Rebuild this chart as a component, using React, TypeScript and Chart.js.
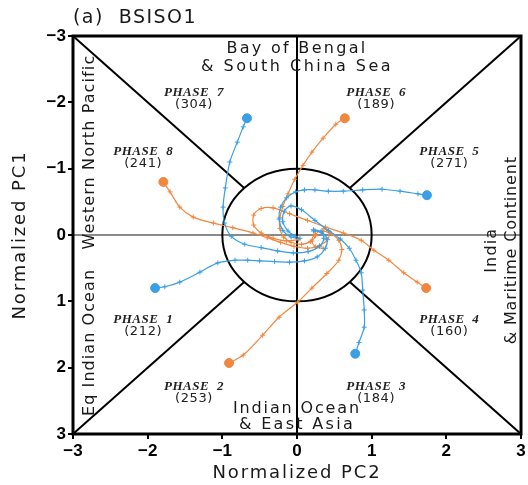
import React, { useEffect, useRef } from "react";
import { Chart, registerables } from "chart.js";

Chart.register(...registerables);

// Axis ticks (both axes: -3 .. 3)
const AXIS_TICKS = [-3, -2, -1, 0, 1, 2, 3];

// Trajectories (x = Normalized PC2, y = Normalized PC1); first point is the large dot
// Phase 1 (blue)
const p1X = [-1.90, -1.77, -1.57, -1.30, -1.06, -0.83, -0.66, -0.50, -0.30, -0.10, 0.10, 0.27, 0.38, 0.40, 0.33, 0.22];
const p1Y = [0.80, 0.78, 0.71, 0.56, 0.42, 0.38, 0.38, 0.39, 0.40, 0.41, 0.39, 0.33, 0.20, 0.06, -0.04, -0.06];
// Phase 3 (blue)
const p3X = [0.78, 0.83, 0.90, 0.90, 0.88, 0.86, 0.79, 0.70, 0.58, 0.42, 0.24, 0.06, -0.08, -0.17, -0.19, -0.12, -0.02];
const p3Y = [1.79, 1.62, 1.39, 1.13, 0.83, 0.57, 0.38, 0.20, 0.06, -0.07, -0.22, -0.38, -0.44, -0.36, -0.20, -0.06, 0.02];
// Phase 5 (blue)
const p5X = [1.74, 1.62, 1.38, 1.14, 0.88, 0.62, 0.42, 0.24, 0.10, -0.02, -0.14, -0.22, -0.24, -0.19, -0.08, 0.04];
const p5Y = [-0.60, -0.62, -0.66, -0.69, -0.68, -0.66, -0.66, -0.68, -0.68, -0.65, -0.56, -0.42, -0.24, -0.07, 0.03, 0.05];
// Phase 7 (blue)
const p7X = [-0.67, -0.72, -0.80, -0.90, -0.96, -0.99, -0.97, -0.88, -0.70, -0.48, -0.26, -0.05, 0.15, 0.30, 0.36, 0.32, 0.22];
const p7Y = [-1.76, -1.63, -1.40, -1.10, -0.71, -0.42, -0.18, 0.02, 0.14, 0.19, 0.24, 0.27, 0.25, 0.17, 0.05, -0.05, -0.08];
// Phase 2 (orange)
const p2X = [-0.91, -0.72, -0.46, -0.24, 0.01, 0.20, 0.40, 0.56, 0.60, 0.56, 0.46, 0.34, 0.24, 0.20, 0.25, 0.35];
const p2Y = [1.93, 1.81, 1.51, 1.24, 1.01, 0.80, 0.58, 0.38, 0.22, 0.08, -0.02, -0.06, -0.01, 0.09, 0.18, 0.20];
// Phase 4 (orange)
const p4X = [1.73, 1.61, 1.43, 1.23, 1.03, 0.86, 0.62, 0.38, 0.14, -0.10, -0.32, -0.48, -0.58, -0.58, -0.48, -0.32, -0.14, 0.02];
const p4Y = [0.80, 0.71, 0.57, 0.38, 0.23, 0.08, -0.03, -0.12, -0.22, -0.32, -0.41, -0.40, -0.30, -0.15, -0.03, 0.05, 0.09, 0.07];
// Phase 6 (orange)
const p6X = [0.64, 0.52, 0.35, 0.20, 0.08, -0.03, -0.12, -0.19, -0.23, -0.23, -0.18, -0.08, 0.06, 0.18, 0.25, 0.24];
const p6Y = [-1.76, -1.67, -1.46, -1.25, -1.05, -0.84, -0.62, -0.43, -0.26, -0.10, 0.03, 0.11, 0.14, 0.10, 0.01, -0.07];
// Phase 8 (orange)
const p8X = [-1.79, -1.70, -1.57, -1.39, -1.12, -0.86, -0.59, -0.40, -0.22, -0.04, 0.14, 0.30, 0.41, 0.43, 0.36];
const p8Y = [-0.80, -0.65, -0.42, -0.27, -0.18, -0.11, -0.03, 0.04, 0.11, 0.17, 0.20, 0.16, 0.07, -0.04, -0.10];

// Phase labels and sample counts
const PHASE_NAMES = ["PHASE  1", "PHASE  2", "PHASE  3", "PHASE  4", "PHASE  5", "PHASE  6", "PHASE  7", "PHASE  8"];
const PHASE_COUNTS = ["(212)", "(253)", "(184)", "(160)", "(271)", "(189)", "(304)", "(241)"];

// Layout of the phase labels (in data units)
const PHASE_POS: [number, number][] = [
  [-2.06, 1.28], [-1.38, 2.29], [1.06, 2.29], [2.04, 1.28],
  [2.04, -1.25], [1.06, -2.14], [-1.38, -2.14], [-2.06, -1.25],
];

const BLUE = "#3a9fe4";
const ORANGE = "#f1873f";

const fmt = (v: number) => (v < 0 ? "\u2212" + Math.abs(v) : String(v));

function makeSet(xs: number[], ys: number[], color: string) {
  return {
    data: xs.map((v, i) => ({ x: v, y: ys[i] })),
    showLine: true,
    borderColor: color,
    backgroundColor: color,
    borderWidth: 1.2,
    tension: 0.3,
    pointStyle: (c: any) => (c.dataIndex === 0 ? "circle" : "cross"),
    pointRadius: (c: any) => (c.dataIndex === 0 ? 4.5 : 2.5),
    pointBorderWidth: 1,
    pointHoverRadius: 0,
  };
}

const overlay = {
  id: "overlay",
  beforeDatasetsDraw(chart: any) {
    const { ctx, scales } = chart;
    const x = scales.x, y = scales.y;
    const px = (v: number) => x.getPixelForValue(v);
    const py = (v: number) => y.getPixelForValue(v);
    const seg = (x1: number, y1: number, x2: number, y2: number) => {
      ctx.beginPath();
      ctx.moveTo(x1, y1);
      ctx.lineTo(x2, y2);
      ctx.stroke();
    };
    ctx.save();
    ctx.lineWidth = 2;
    ctx.strokeStyle = "#8a8a8a";
    seg(px(-3), py(0), px(3), py(0));
    ctx.strokeStyle = "#000";
    seg(px(0), py(-3), px(0), py(3));
    const r = Math.SQRT1_2;
    for (const [sx, sy] of [[-1, -1], [1, -1], [1, 1], [-1, 1]]) {
      seg(px(3 * sx), py(3 * sy), px(r * sx), py(r * sy));
    }
    ctx.beginPath();
    ctx.ellipse(px(0), py(0), px(1) - px(0), Math.abs(py(1) - py(0)), 0, 0, Math.PI * 2);
    ctx.stroke();
    ctx.restore();
  },
  afterDraw(chart: any) {
    const { ctx, chartArea: a, scales } = chart;
    const x = scales.x, y = scales.y;
    const px = (v: number) => x.getPixelForValue(v);
    const py = (v: number) => y.getPixelForValue(v);
    ctx.save();
    // frame
    ctx.lineWidth = 3;
    ctx.strokeStyle = "#000";
    ctx.strokeRect(a.left, a.top, a.right - a.left, a.bottom - a.top);

    // text stretched (via letter spacing) to a target width, centred (or left-aligned) on X,Y
    const text = (t: string, X: number, Y: number, font: string, width: number, rot = 0, left = false, color = "#1a1a1a") => {
      ctx.save();
      ctx.font = font;
      (ctx as any).letterSpacing = "0px";
      const w = ctx.measureText(t).width;
      const s = (width - w) / t.length;
      (ctx as any).letterSpacing = s.toFixed(2) + "px";
      ctx.fillStyle = color;
      ctx.textAlign = "left";
      ctx.textBaseline = "middle";
      ctx.translate(X, Y);
      if (rot) ctx.rotate(rot);
      ctx.fillText(t, left ? 0 : -width / 2, 0);
      ctx.restore();
    };
    const reg = "16px 'DejaVu Sans'";
    const up = -Math.PI / 2;

    // title
    text("(a)  BSISO1", a.left, 18, "19px 'DejaVu Sans'", 124, 0, true);

    // axis titles
    text("Normalized PC2", (a.left + a.right) / 2, 473, "18px 'DejaVu Sans'", 169);
    text("Normalized PC1", 20, (a.top + a.bottom) / 2, "18px 'DejaVu Sans'", 169, up);

    // region labels
    text("Bay of Bengal", px(0), py(-2.80), reg, 141);
    text("& South China Sea", px(0), py(-2.53), reg, 192);
    text("Indian Ocean", px(0), py(2.62), reg, 128);
    text("& East Asia", px(0), py(2.86), reg, 116);
    text("Western North Pacific", px(-2.77), py(-1.25), reg, 195, up);
    text("Eq Indian Ocean", px(-2.77), py(1.62), reg, 147, up);
    text("India", px(2.61), py(0.23), reg, 45, up);
    text("& Maritime Continent", px(2.88), py(0.23), reg, 188, up);

    // phase labels
    PHASE_NAMES.forEach((n, i) => {
      const [lx, ly] = PHASE_POS[i];
      text(n, px(lx), py(ly), "italic bold 13px 'Liberation Serif'", 60, 0, false, "#222");
      text(PHASE_COUNTS[i], px(lx), py(ly) + 12, "13px 'DejaVu Sans'", 38, 0, false, "#222");
    });
    ctx.restore();
  },
};

export default function App() {
  const ref = useRef<HTMLCanvasElement | null>(null);
  useEffect(() => {
    if (!ref.current) return;
    const tickFont = { family: "'Liberation Sans'", size: 17, weight: "bold" as const };
    const chart = new Chart(ref.current, {
      type: "scatter",
      data: {
        datasets: [
          makeSet(p1X, p1Y, BLUE),
          makeSet(p3X, p3Y, BLUE),
          makeSet(p5X, p5Y, BLUE),
          makeSet(p7X, p7Y, BLUE),
          makeSet(p2X, p2Y, ORANGE),
          makeSet(p4X, p4Y, ORANGE),
          makeSet(p6X, p6Y, ORANGE),
          makeSet(p8X, p8Y, ORANGE),
        ] as any,
      },
      options: {
        responsive: false,
        animation: false,
        events: [],
        layout: { padding: { left: 0, right: 7, top: 36, bottom: 0 } },
        plugins: { legend: { display: false }, tooltip: { enabled: false }, title: { display: false } },
        scales: {
          x: {
            type: "linear",
            min: -3,
            max: 3,
            afterBuildTicks: (s: any) => { s.ticks = AXIS_TICKS.map((v) => ({ value: v })); },
            ticks: { callback: (v: any) => fmt(Number(v)), font: tickFont, color: "#000", padding: 2, maxRotation: 0, autoSkip: false },
            grid: { drawOnChartArea: false, drawTicks: true, tickLength: 5, color: "#000", lineWidth: 2 },
            border: { display: false },
            afterFit: (s: any) => { s.height = 51; },
          },
          y: {
            type: "linear",
            min: -3,
            max: 3,
            reverse: true,
            afterBuildTicks: (s: any) => { s.ticks = AXIS_TICKS.map((v) => ({ value: v })); },
            ticks: { callback: (v: any) => fmt(Number(v)), font: tickFont, color: "#000", padding: 2, autoSkip: false },
            grid: { drawOnChartArea: false, drawTicks: true, tickLength: 5, color: "#000", lineWidth: 2 },
            border: { display: false },
            afterFit: (s: any) => { s.width = 73; },
          },
        },
      } as any,
      plugins: [overlay],
    });
    return () => chart.destroy();
  }, []);
  return (
    <div style={{ position: "absolute", left: 0, top: 0, width: 528, height: 485, background: "#fff" }}>
      <canvas ref={ref} width={528} height={485} />
    </div>
  );
}
